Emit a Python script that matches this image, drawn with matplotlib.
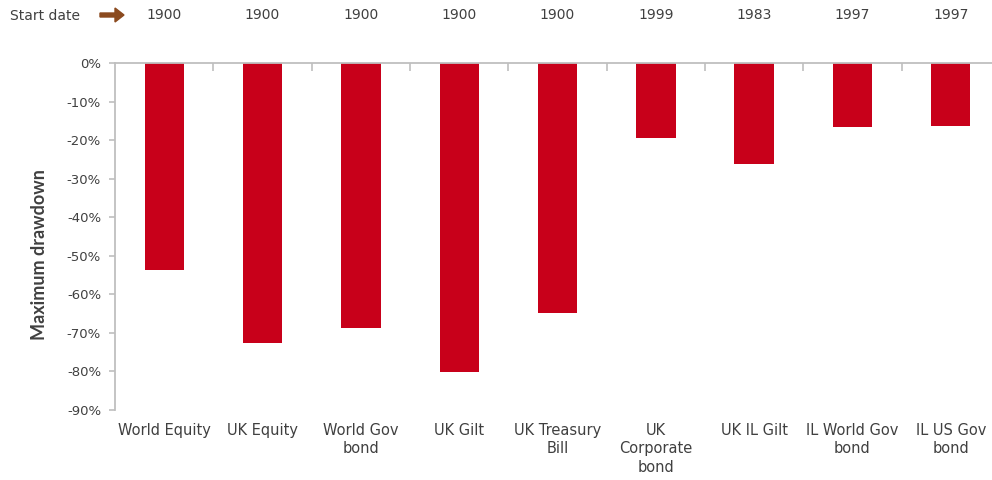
import matplotlib
matplotlib.use("Agg")
import matplotlib.pyplot as plt
from matplotlib.ticker import FuncFormatter, FixedLocator

categories = ["World Equity", "UK Equity", "World Gov\nbond", "UK Gilt", "UK Treasury\nBill",
              "UK\nCorporate\nbond", "UK IL Gilt", "IL World Gov\nbond", "IL US Gov\nbond"]
start_dates = ["1900", "1900", "1900", "1900", "1900", "1999", "1983", "1997", "1997"]
drawdown = [-53.7, -72.6, -68.7, -80.1, -64.8, -19.4, -26.2, -16.6, -16.3]
yticks = [0, -10, -20, -30, -40, -50, -60, -70, -80, -90]

RED = "#C8001A"
GRAY = "#BFBFBF"
TEXT = "#404040"

plt.rcParams['font.family'] = ['DejaVu Sans']

fig = plt.figure(figsize=(9.92, 4.8), dpi=100)
W, H = 992, 480
ax = fig.add_axes([115 / W, 70 / H, (1000 - 115) / W, (410 - 63) / H])

x = list(range(len(categories)))
ax.bar(x, drawdown, width=0.4, color=RED, zorder=2)

ax.set_xlim(-0.5, len(categories) - 0.5)
ax.set_ylim(-90, 0)

for s in ["right", "bottom"]:
    ax.spines[s].set_visible(False)
ax.spines["left"].set_color(GRAY)
ax.spines["top"].set_color(GRAY)
ax.spines["left"].set_linewidth(1.3)
ax.spines["top"].set_linewidth(1.3)

ax.yaxis.set_major_locator(FixedLocator(yticks))
ax.yaxis.set_major_formatter(FuncFormatter(lambda v, p: f"{int(round(v))}%"))
ax.tick_params(axis="y", direction="out", length=4, color=GRAY, width=1.2,
               labelsize=9.5, labelcolor=TEXT, pad=6)

ax.xaxis.set_ticks_position("top")
ax.set_xticks([i + 0.5 for i in range(len(categories) - 1)])
ax.tick_params(axis="x", which="major", direction="in", length=6, color=GRAY, width=1.2,
               labeltop=False, labelbottom=False)

for i, lab in enumerate(categories):
    ax.text(i, -93.3, lab, ha="center", va="top",
            fontsize=10.5, color=TEXT, linespacing=1.3)

ax.set_ylabel("Maximum drawdown", fontsize=13, color=TEXT, family=["Lato", "DejaVu Sans"],
              fontweight="bold")
ax.yaxis.set_label_coords(-67 / 885, (410 - 255) / 347)

for i, d in enumerate(start_dates):
    ax.annotate(d, xy=(i, 1), xycoords=("data", "axes fraction"),
                xytext=(0, 48), textcoords="offset pixels",
                ha="center", va="center", fontsize=10, color=TEXT, annotation_clip=False)
fig.text(10 / W, 1 - 16 / H, "Start date", ha="left", va="center", fontsize=10, color=TEXT)
fig.patches.append(matplotlib.patches.FancyArrow(
    100 / W, 1 - 15 / H, 24 / W, 0, width=4 / H, head_width=14 / H, head_length=9 / W,
    length_includes_head=True, color="#8B4A1E", transform=fig.transFigure, figure=fig))

fig.savefig("out.png", dpi=100)
